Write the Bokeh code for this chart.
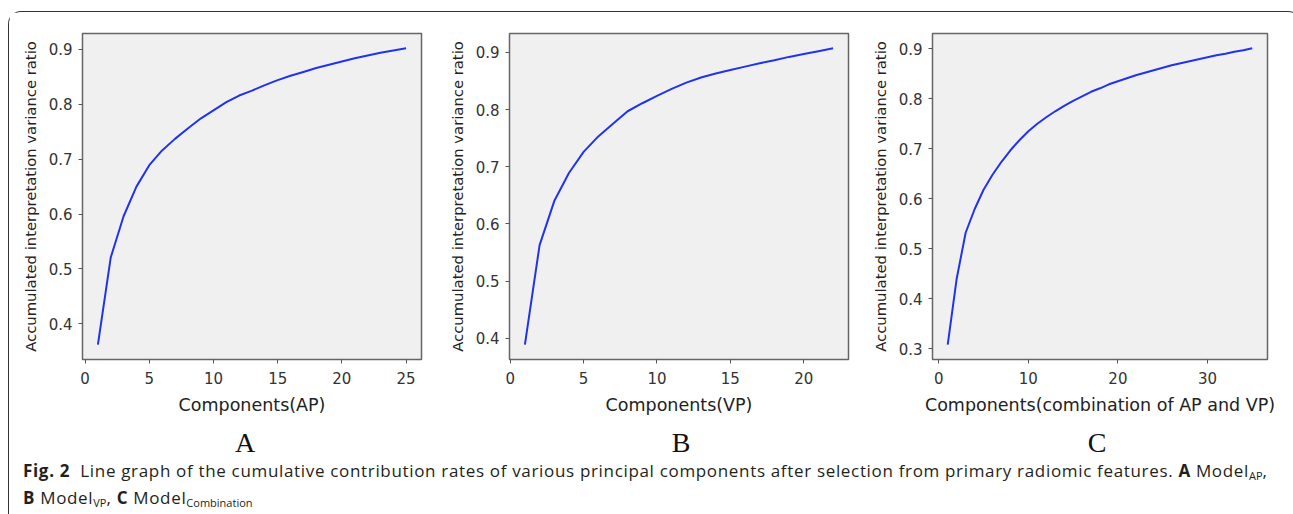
from bokeh.plotting import figure
from bokeh.models import FixedTicker, Range1d, Div
from bokeh.layouts import row, column
from bokeh.embed import file_html
from bokeh.resources import INLINE

# ---------------- data ----------------
components_ap = list(range(1, 26))
ratio_ap = [0.362, 0.521, 0.596, 0.650, 0.689, 0.716, 0.737, 0.756, 0.774, 0.789,
            0.804, 0.816, 0.825, 0.835, 0.844, 0.852, 0.859, 0.866, 0.872, 0.878,
            0.884, 0.889, 0.894, 0.898, 0.902]

components_vp = list(range(1, 23))
ratio_vp = [0.389, 0.563, 0.640, 0.689, 0.726, 0.753, 0.775, 0.797, 0.811, 0.824,
            0.836, 0.847, 0.856, 0.863, 0.869, 0.875, 0.881, 0.886, 0.892, 0.897,
            0.902, 0.907]

components_comb = list(range(1, 36))
ratio_comb = [0.308, 0.440, 0.532, 0.579, 0.618, 0.648, 0.674, 0.697, 0.717, 0.735,
              0.750, 0.763, 0.775, 0.786, 0.796, 0.805, 0.814, 0.821, 0.829, 0.835,
              0.841, 0.847, 0.852, 0.857, 0.862, 0.867, 0.871, 0.875, 0.879, 0.883,
              0.887, 0.890, 0.894, 0.897, 0.901]

xticks_ap = [0, 5, 10, 15, 20, 25]
xticks_vp = [0, 5, 10, 15, 20]
xticks_comb = [0, 10, 20, 30]
yticks_ap = [0.4, 0.5, 0.6, 0.7, 0.8, 0.9]
yticks_vp = [0.4, 0.5, 0.6, 0.7, 0.8, 0.9]
yticks_comb = [0.3, 0.4, 0.5, 0.6, 0.7, 0.8, 0.9]

xlabel_ap = "Components(AP)"
xlabel_vp = "Components(VP)"
xlabel_comb = "Components(combination of AP and VP)"
ylabel = "Accumulated interpretation variance ratio"
panel_letters = ["A", "B", "C"]


def padded(vals):
    lo, hi = min(vals), max(vals)
    m = (hi - lo) * 0.05
    return Range1d(lo - m, hi + m)


def make_panel(xs, ys, xticks, yticks, xlabel, bl, fw, br, bt, fh, bb):
    p = figure(width=bl + fw + br, height=bt + fh + bb,
               min_border_left=bl, min_border_right=br,
               min_border_top=bt, min_border_bottom=bb,
               x_range=padded(xs), y_range=padded(ys),
               output_backend="svg", toolbar_location=None)
    p.background_fill_color = "#f0f0f0"
    p.border_fill_color = "white"
    p.outline_line_color = "#666666"
    p.outline_line_width = 1.5
    p.grid.visible = False
    p.xaxis.ticker = FixedTicker(ticks=xticks)
    p.yaxis.ticker = FixedTicker(ticks=yticks)
    for ax in (p.xaxis, p.yaxis):
        ax.axis_line_color = None
        ax.major_tick_line_color = "#555555"
        ax.major_tick_out = 4
        ax.major_tick_in = 0
        ax.minor_tick_line_color = None
        ax.major_label_text_font = "DejaVu Sans"
        ax.major_label_text_font_size = "15px"
        ax.major_label_text_color = "#333333"
        ax.axis_label_text_font = "DejaVu Sans"
        ax.axis_label_text_font_style = "normal"
        ax.axis_label_text_color = "#222222"
    p.xaxis.major_label_standoff = 8
    p.yaxis.major_label_standoff = 6
    p.xaxis.axis_label = xlabel
    p.xaxis.axis_label_text_font_size = "17.5px"
    p.xaxis.axis_label_standoff = 8
    p.yaxis.axis_label = ylabel
    p.yaxis.axis_label_text_font_size = "14.8px"
    p.yaxis.axis_label_standoff = 7
    p.line(xs, ys, line_color="#2233ee", line_width=2)
    return p


pa = make_panel(components_ap, ratio_ap, xticks_ap, yticks_ap, xlabel_ap,
                73, 339, 15, 21, 330, 60)
pb = make_panel(components_vp, ratio_vp, xticks_vp, yticks_vp, xlabel_vp,
                73, 339, 11, 20, 331, 60)
pc = make_panel(components_comb, ratio_comb, xticks_comb, yticks_comb, xlabel_comb,
                73, 335, 23, 17, 330, 64)

letter_x = [231, 667, 1083]
letters_html = "".join(
    f'<span style="position:absolute;left:{lx}px;top:1px;transform:translateX(-50%);'
    f'font-family:\'Liberation Serif\';font-size:28px;line-height:28px;color:#111;">{lt}</span>'
    for lt, lx in zip(panel_letters, letter_x))

sub = 'style="font-size:11px;vertical-align:-3px;line-height:0;letter-spacing:0;"'
caption = (
    '<div style="position:absolute;left:9px;top:29px;font-family:\'Open Sans\';'
    'font-size:17px;letter-spacing:0.67px;line-height:27px;color:#231f20;white-space:nowrap;">'
    '<b>Fig. 2</b>&nbsp; Line graph of the cumulative contribution rates of various principal '
    'components after selection from primary radiomic features. <b>A</b> Model'
    f'<sub {sub}>AP</sub>,<br><b>B</b> Model<sub {sub}>VP</sub>, <b>C</b> Model'
    f'<sub {sub}>Combination</sub></div>'
)

html = f'<div style="position:relative;width:1281px;height:90px;">{letters_html}{caption}</div>'
text_div = Div(text=html, width=1281, height=90)

layout = column(row(pa, pb, pc), text_div,
                styles={"margin-left": "8px", "margin-top": "11px",
                        "border": "1.4px solid #333333", "border-bottom": "none",
                        "border-radius": "13px 13px 0 0"})

open("out.html", "w").write(file_html(layout, INLINE))
